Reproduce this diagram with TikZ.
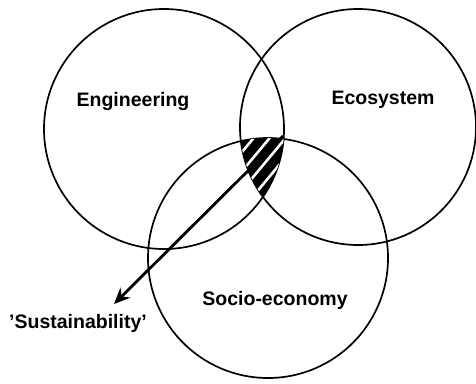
\documentclass[tikz,border=0pt]{standalone}
\usepackage{fontspec}
\setmainfont{Liberation Sans}
\usetikzlibrary{arrows.meta}
\begin{document}
\begin{tikzpicture}[x=1pt,y=-1pt,
  ring/.style={circle,draw=black,line width=1.7pt,minimum size=240pt,inner sep=0pt,outer sep=0pt},
  lbl/.style={font=\fontsize{19.5}{23}\selectfont\bfseries,inner sep=0pt},
  pointer/.style={line width=2.8pt,-{Stealth[length=16pt,width=14pt]}}]
\useasboundingbox (0,0) rectangle (476,383);
\fill[white] (0,0) rectangle (476,383);
\node[ring] (eng) at (164,129) {};
\node[ring,minimum size=236pt] (eco) at (358,127) {};
\node[ring] (soc) at (268,258) {};
\begin{scope}
  \clip (164,129) circle[radius=120pt];
  \clip (358,127) circle[radius=118pt];
  \clip (268,258) circle[radius=120pt];
  \fill[black] (220,100) rectangle (300,220);
  \foreach \k in {-3,...,3}
    \draw[white,line width=2.6pt] (234+\k*16,200) -- (294+\k*16,128);
\end{scope}
\node[lbl] (engl) at (133,101) {Engineering};
\node[lbl] (ecol) at (383,100) {Ecosystem};
\node[lbl] (socl) at (275,300) {Socio-economy};
\node[lbl] (sus) at (78,323) {\char"27 Sustainability\char"27};
\coordinate (start) at (283,136);
\coordinate (tip) at (114,304);
\draw[pointer] (start) -- (tip);
\end{tikzpicture}
\end{document}
